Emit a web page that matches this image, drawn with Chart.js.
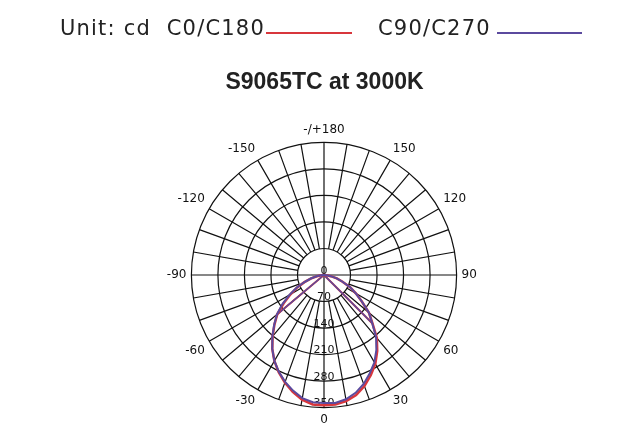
<!DOCTYPE html>
<html>
<head>
<meta charset="utf-8">
<script src="https://cdn.jsdelivr.net/npm/chart.js@4.4.1/dist/chart.umd.min.js"></script>
<style>
  html, body { margin: 0; padding: 0; background: #fff; }
  #wrap { position: relative; width: 640px; height: 448px; }
</style>
</head>
<body>
<div id="wrap"><canvas id="polarChart" width="640" height="448"></canvas></div>
<script>
// gamma angles every 5 deg, going clockwise from the bottom: 0, -5 ... -/+180 ... 10, 5
var gammaAngles = [];
for (var a = 0; a < 360; a += 5) gammaAngles.push(a <= 180 ? -a : 360 - a);

var angleTickLabels = ["0", "-30", "-60", "-90", "-120", "-150", "-/+180", "150", "120", "90", "60", "30"];
var radialTicks = [0, 70, 140, 210, 280, 350];

// candela values, same order as gammaAngles
var c0c180 = [
  344,
  343, 334, 319, 302, 283, 262, 238, 211, 185, 161, 130, 102, 78, 55, 35, 19, 7, 0,
  0, 0, 0, 0, 0, 0, 0, 0, 0, 0, 0, 0, 0, 0, 0, 0, 0,
  0,
  0, 0, 0, 0, 0, 0, 0, 0, 0, 0, 0, 0, 0, 0, 0, 0, 0,
  0,
  7, 18, 35, 52, 76, 97, 122, 155, 181, 217, 245, 271, 292, 312, 328, 338, 343
];
var c90c270 = [
  338,
  337, 330, 316, 300, 282, 262, 238, 212, 186, 162, 134, 106, 80, 56, 36, 20, 8, 0,
  0, 0, 0, 0, 0, 0, 0, 0, 0, 0, 0, 0, 0, 0, 0, 0, 0,
  0,
  0, 0, 0, 0, 0, 0, 0, 0, 0, 0, 0, 0, 0, 0, 0, 0, 0,
  0,
  7, 18, 35, 52, 76, 97, 122, 155, 180, 214, 241, 266, 286, 306, 322, 333, 339
];

// the two straight strokes back to the centre
var chordGammas = [-50, -55, 50, 45];
var chordValues = [162, 0, 0, 180];

var chordData = gammaAngles.map(function () { return null; });
chordGammas.forEach(function (g, i) {
  chordData[gammaAngles.indexOf(g)] = chordValues[i];
});

var redColor = "#d8363c";
var purpleColor = "#5b4a9e";
var gridColor = "#111";

// spokes every 10 deg (axes go through the centre, the rest start at the first ring) + value labels
var polarGrid = {
  id: "polarGrid",
  beforeDatasetsDraw: function (chart) {
    var s = chart.scales.r;
    var ctx = chart.ctx;
    var r1 = s.getDistanceFromCenterForValue(radialTicks[1]);
    var rOut = s.getDistanceFromCenterForValue(radialTicks[radialTicks.length - 1]);
    ctx.save();
    ctx.strokeStyle = gridColor;
    ctx.lineWidth = 1.2;
    ctx.beginPath();
    for (var k = 0; k < 36; k++) {
      var idx = k * 2;
      var p1 = s.getPointPosition(idx, k % 9 === 0 ? 0 : r1);
      var p2 = s.getPointPosition(idx, rOut);
      ctx.moveTo(p1.x, p1.y);
      ctx.lineTo(p2.x, p2.y);
    }
    ctx.stroke();

    ctx.fillStyle = "#111";
    ctx.font = "11px 'DejaVu Sans'";
    ctx.textAlign = "center";
    ctx.textBaseline = "middle";
    radialTicks.forEach(function (v) {
      var p = s.getPointPosition(0, s.getDistanceFromCenterForValue(v));
      ctx.fillText(String(v), p.x, p.y - 4);
    });
    ctx.restore();
  }
};

// header line: unit and the two line keys
var headerKey = {
  id: "headerKey",
  afterDraw: function (chart) {
    var ctx = chart.ctx;
    ctx.save();
    ctx.fillStyle = "#222";
    ctx.font = "21px 'DejaVu Sans'";
    ctx.letterSpacing = "1.2px";
    ctx.textAlign = "left";
    ctx.textBaseline = "alphabetic";
    ctx.fillText("Unit: cd  C0/C180", 60, 34.5);
    ctx.fillText("C90/C270", 378, 34.5);
    ctx.lineWidth = 2;
    ctx.strokeStyle = redColor;
    ctx.beginPath();
    ctx.moveTo(266, 33);
    ctx.lineTo(352, 33);
    ctx.stroke();
    ctx.strokeStyle = purpleColor;
    ctx.beginPath();
    ctx.moveTo(497, 33);
    ctx.lineTo(582, 33);
    ctx.stroke();
    ctx.restore();
  }
};

var ctx = document.getElementById("polarChart");
var polarChart = new Chart(ctx, {
  type: "radar",
  data: {
    labels: gammaAngles,
    datasets: [
      {
        label: "C90/C270",
        data: c90c270,
        borderColor: purpleColor,
        borderWidth: 2,
        order: 1,
      },
      {
        label: "C0/C180",
        data: c0c180,
        borderColor: redColor,
        borderWidth: 2.5,
        order: 2,
      },
      {
        label: "C90/C270 chord",
        data: chordData,
        borderColor: purpleColor,
        borderWidth: 1.5,
        order: 3,
      },
      {
        label: "C0/C180 chord",
        data: chordData,
        borderColor: redColor,
        borderWidth: 2,
        order: 4,
      },
    ],
  },
  options: {
    responsive: false,
    animation: false,
    elements: {
      line: { fill: false, tension: 0, backgroundColor: "rgba(0,0,0,0)" },
      point: { radius: 0, hoverRadius: 0 },
    },
    layout: { padding: { top: 0, bottom: 21, left: 100, right: 91 } },
    plugins: {
      legend: { display: false },
      tooltip: { enabled: false },
      title: {
        display: true,
        text: "S9065TC at 3000K",
        color: "#222",
        font: { family: "'Liberation Sans'", size: 23, weight: "bold", lineHeight: 1.2 },
        padding: { top: 69, bottom: 26.4 },
      },
    },
    scales: {
      r: {
        min: 0,
        max: 350,
        startAngle: 180,
        ticks: { stepSize: 70, display: false },
        grid: { circular: true, color: gridColor, lineWidth: 1.2 },
        angleLines: { display: false },
        pointLabels: {
          display: true,
          padding: 5,
          color: "#111",
          font: { family: "'DejaVu Sans'", size: 12 },
          callback: function (label, index) {
            return index % 6 === 0 ? angleTickLabels[index / 6] : "";
          },
        },
      },
    },
  },
  plugins: [polarGrid, headerKey],
});
</script>
</body>
</html>
